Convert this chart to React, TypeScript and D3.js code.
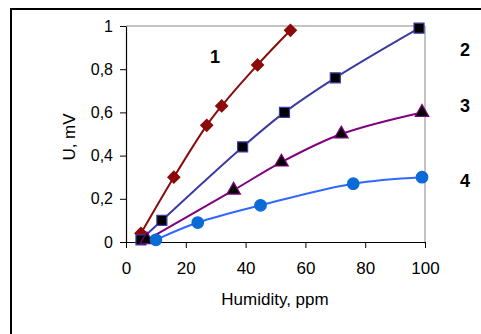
import React, { useEffect, useRef } from 'react'
import * as d3 from 'd3'

// values (x = humidity, ppm; y = U, mV)
const s1x = [5, 16, 27, 32, 44, 55]
const s1y = [0.04, 0.3, 0.54, 0.63, 0.82, 0.98]
const s2x = [5, 12, 39, 53, 70, 98]
const s2y = [0.01, 0.1, 0.44, 0.6, 0.76, 0.99]
const s3x = [7, 36, 52, 72, 99]
const s3y = [0.01, 0.24, 0.37, 0.5, 0.6]
const s4x = [10, 24, 45, 76, 99]
const s4y = [0.01, 0.09, 0.17, 0.27, 0.3]

const seriesLabels = ['1', '2', '3', '4']
const xTicks = [0, 20, 40, 60, 80, 100]
const yTicks = [0, 0.2, 0.4, 0.6, 0.8, 1]

const W = 481
const H = 334

function App() {
  const ref = useRef<SVGSVGElement>(null)

  useEffect(() => {
    const svg = d3.select(ref.current)
    svg.selectAll('*').remove()

    const margin = { left: 126, top: 26, right: 425, bottom: 242 }
    const x = d3.scaleLinear().domain([0, 100]).range([margin.left, margin.right])
    const y = d3.scaleLinear().domain([0, 1]).range([margin.bottom, margin.top])
    const font = 'Liberation Sans, Arial, sans-serif'

    svg.append('rect').attr('width', W).attr('height', H).attr('fill', '#fff')

    // outer chart frame (runs off the right and bottom edges)
    svg.append('rect')
      .attr('x', 11).attr('y', 9)
      .attr('width', W + 20).attr('height', H + 20)
      .attr('fill', 'none').attr('stroke', '#000').attr('stroke-width', 2)

    // plot area border (top and right, grey)
    svg.append('path')
      .attr('d', `M${x(0)},${y(1)}H${x(100)}V${y(0)}`)
      .attr('fill', 'none').attr('stroke', '#888').attr('stroke-width', 1)

    const xAxis = svg.append('g')
      .attr('transform', `translate(0,${y(0)})`)
      .call(d3.axisBottom(x).tickValues(xTicks).tickSize(6).tickSizeOuter(0).tickFormat(d3.format('d')))
    const yAxis = svg.append('g')
      .attr('transform', `translate(${x(0)},0)`)
      .call(d3.axisLeft(y).tickValues(yTicks).tickSize(6).tickSizeOuter(0)
        .tickFormat(d => (d === 0 || d === 1 ? String(d) : d3.format('.1f')(d as number).replace('.', ','))))

    for (const g of [xAxis, yAxis]) {
      g.select('.domain').attr('stroke', '#000').attr('stroke-width', 1.2)
      g.selectAll('.tick line').attr('stroke', '#000')
      g.selectAll('.tick text').attr('font-family', font).attr('fill', '#000')
    }
    xAxis.selectAll('.tick text').attr('font-size', 17).attr('y', 20).attr('dy', '0.71em')
    yAxis.selectAll('.tick text').attr('font-size', 16).attr('x', -13)

    svg.append('text')
      .attr('x', 275).attr('y', 305)
      .attr('text-anchor', 'middle')
      .attr('font-family', font).attr('font-size', 17)
      .text('Humidity, ppm')

    svg.append('text')
      .attr('transform', `translate(75,137) rotate(-90)`)
      .attr('text-anchor', 'middle')
      .attr('font-family', font).attr('font-size', 17)
      .text('U, mV')

    const line = d3.line<[number, number]>()
      .x(d => x(d[0])).y(d => y(d[1]))
      .curve(d3.curveCatmullRom.alpha(0.5))

    const series = [
      { xs: s1x, ys: s1y, stroke: '#8b0a0a', fill: '#8b0a0a', mstroke: '#8b0a0a', shape: d3.symbolSquare, size: 72, rot: 45 },
      { xs: s2x, ys: s2y, stroke: '#3b3ba3', fill: '#000', mstroke: '#3b3ba3', shape: d3.symbolSquare, size: 100, rot: 0 },
      { xs: s3x, ys: s3y, stroke: '#800080', fill: '#000', mstroke: '#800080', shape: d3.symbolTriangle, size: 80, rot: 0 },
      { xs: s4x, ys: s4y, stroke: '#3366ff', fill: '#0a6ad6', mstroke: '#0a6ad6', shape: d3.symbolCircle, size: 105, rot: 0 },
    ]

    series.forEach(s => {
      const pts = s.xs.map((v, i) => [v, s.ys[i]] as [number, number])
      svg.append('path')
        .attr('d', line(pts))
        .attr('fill', 'none').attr('stroke', s.stroke).attr('stroke-width', 2)
      svg.append('g').selectAll('path')
        .data(pts)
        .join('path')
        .attr('transform', d => `translate(${x(d[0])},${y(d[1])}) rotate(${s.rot})`)
        .attr('d', d3.symbol().type(s.shape).size(s.size)())
        .attr('fill', s.fill).attr('stroke', s.mstroke).attr('stroke-width', 1.2)
    })

    // series numbers
    const labelPos = [[215, 63], [465, 56], [465, 112], [465, 187]]
    svg.append('g').selectAll('text')
      .data(seriesLabels)
      .join('text')
      .attr('x', (d, i) => labelPos[i][0]).attr('y', (d, i) => labelPos[i][1])
      .attr('text-anchor', 'middle')
      .attr('font-family', font).attr('font-size', 18).attr('font-weight', 'bold')
      .text(d => d)
  }, [])

  return <svg ref={ref} width={W} height={H} style={{ position: 'absolute', left: 0, top: 0 }} />
}

export default App
